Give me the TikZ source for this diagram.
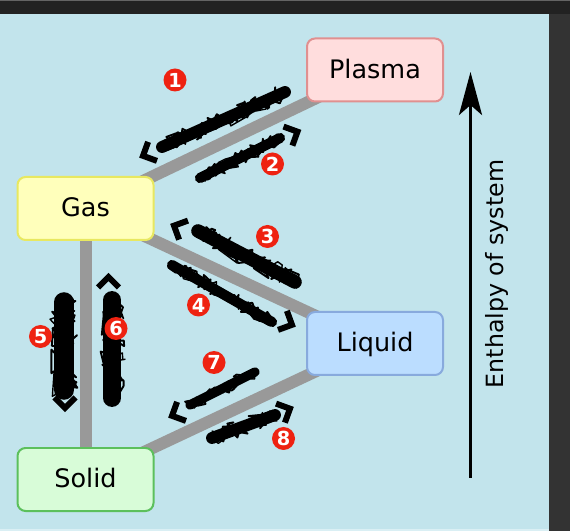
\documentclass[tikz,border=0pt]{standalone}
\usepackage{fontspec}
\setmainfont{DejaVu Sans}
\usetikzlibrary{arrows.meta, positioning, backgrounds, decorations.pathmorphing}

\definecolor{bgblue}{RGB}{194,228,236}
\definecolor{darkedge}{RGB}{34,34,34}
\definecolor{darkside}{RGB}{51,51,51}
\definecolor{linkgray}{RGB}{153,153,153}
\definecolor{plasmafill}{RGB}{255,221,221}
\definecolor{plasmaline}{RGB}{224,144,144}
\definecolor{gasfill}{RGB}{255,255,187}
\definecolor{gasline}{RGB}{232,232,96}
\definecolor{liquidfill}{RGB}{187,221,255}
\definecolor{liquidline}{RGB}{136,170,221}
\definecolor{solidfill}{RGB}{216,252,216}
\definecolor{solidline}{RGB}{92,192,92}
\definecolor{numred}{RGB}{238,34,17}

\begin{document}
\begin{tikzpicture}[thick, >=stealth]
	\pgfmathsetseed{42}
	\useasboundingbox (0,0) rectangle (11.4,10.62);

	% Define styles
	\tikzstyle{phase} = [rectangle, rounded corners=0.16cm, line width=0.04cm, minimum width=2.72cm, minimum height=1.26cm, text height=0.96em, text depth=0pt, font=\fontsize{14.5}{17}\selectfont]
	\tikzstyle{link} = [linkgray, line width=0.24cm]
	\tikzstyle{num} = [circle, fill=numred, text=white, inner sep=0pt, minimum size=0.46cm, font=\bfseries\fontsize{11}{11}\selectfont]
	\tikzset{scribble/.style={black, line cap=round, line join=round, line width=0.85*#1,
		postaction={draw, line width=1.1pt, decorate, decoration={random steps, segment length=1.5pt, amplitude=0.6*#1}},
		postaction={draw, line width=1.1pt, decorate, decoration={random steps, segment length=2.5pt, amplitude=0.6*#1}},
		postaction={draw, line width=0.8pt, decorate, decoration={random steps, segment length=3.5pt, amplitude=0.65*#1}}}}
	\tikzset{chevron/.pic={\draw[black, line width=0.12cm] (-0.1,0.21) -- (0.11,0) -- (-0.1,-0.21);}}

	% Canvas
	\begin{scope}[on background layer]
		\fill[bgblue] (0,0) rectangle (10.98,10.34);
		\fill[bgblue!60!white] (0,0) rectangle (10.98,0.05);
		\fill[darkedge] (0,10.34) rectangle (11.4,10.62);
		\fill[darkedge!70!white] (0,10.59) rectangle (11.4,10.62);
		\fill[darkside] (10.98,0) rectangle (11.4,10.34);
	\end{scope}

	% Nodes
	\node[phase, fill=gasfill, draw=gasline] (gas) at (1.71,6.45) {Gas};
	\node[phase, fill=solidfill, draw=solidline, below of=gas, node distance=5.42cm] (solid) {Solid};
	\node[phase, fill=plasmafill, draw=plasmaline] (plasma) at (7.5,9.22) {Plasma};
	\node[phase, fill=liquidfill, draw=liquidline, below of=plasma, node distance=5.47cm] (liquid) {Liquid};

	% Links
	\begin{scope}[on background layer]
		\draw[link] (gas.center) -- (plasma.center);
		\draw[link] (gas.center) -- (liquid.center);
		\draw[link] (gas.center) -- (solid.center);
		\draw[link] (solid.center) -- (liquid.center);
	\end{scope}

	% Scribbled labels
	\draw[scribble=0.28cm] (3.24,7.68) -- (5.70,8.78);
	\draw[scribble=0.24cm] (4.00,7.06) -- (5.60,7.86);
	\draw[scribble=0.32cm] (3.96,6.00) -- (5.90,4.98);
	\draw[scribble=0.24cm] (3.44,5.32) -- (5.44,4.18);
	\draw[scribble=0.46cm] (1.28,4.58) -- (1.28,2.82);
	\draw[scribble=0.42cm] (2.24,4.62) -- (2.24,2.66);
	\draw[scribble=0.22cm] (3.80,2.52) -- (5.10,3.18);
	\draw[scribble=0.28cm] (4.24,1.86) -- (5.50,2.32);

	% Arrow heads
	\pic[rotate=205] at (2.96,7.55) {chevron};
	\pic[rotate=25] at (5.85,7.94) {chevron};
	\pic[rotate=155] at (3.58,6.06) {chevron};
	\pic[rotate=-25] at (5.74,4.17) {chevron};
	\pic[rotate=-90] at (1.30,2.57) {chevron};
	\pic[rotate=90] at (2.17,4.97) {chevron};
	\pic[rotate=205] at (3.54,2.35) {chevron};
	\pic[rotate=25] at (5.70,2.40) {chevron};

	% Numbers
	\node[num] (n1) at (3.50,9.02) {1};
	\node[num] (n2) at (5.45,7.34) {2};
	\node[num] (n3) at (5.35,5.89) {3};
	\node[num] (n4) at (3.97,4.52) {4};
	\node[num] (n5) at (0.81,3.89) {5};
	\node[num] (n6) at (2.32,4.05) {6};
	\node[num] (n7) at (4.28,3.37) {7};
	\node[num] (n8) at (5.67,1.85) {8};

	% Enthalpy axis
	\coordinate (low) at (9.41,1.06);
	\coordinate (high) at (9.41,9.18);
	\draw[-{Stealth[length=0.86cm, width=0.46cm, inset=0.2cm]}, line width=0.066cm] (low) -- (high);
	\node[rotate=90, inner sep=0pt, font=\fontsize{13.5}{16}\selectfont] (enthalpy) at (9.94,5.14) {Enthalpy of system};

\end{tikzpicture}
\end{document}
